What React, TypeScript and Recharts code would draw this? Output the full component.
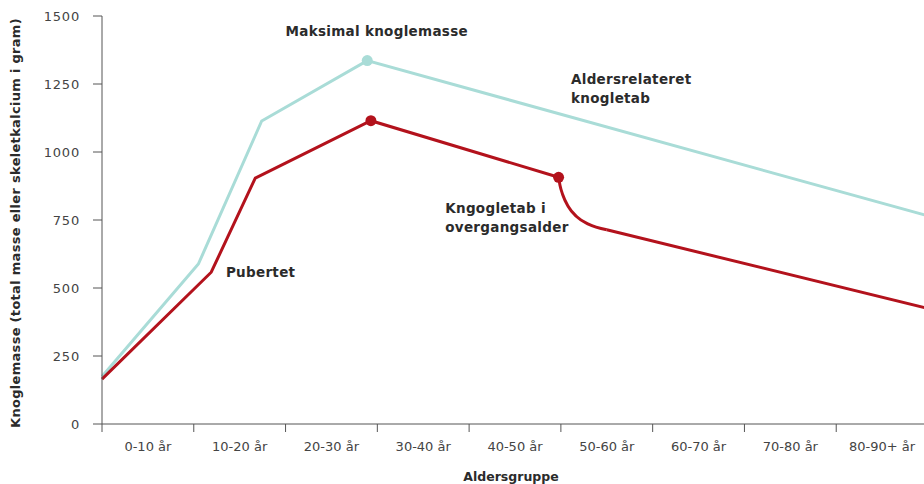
import { LineChart, Line, XAxis, YAxis, ReferenceDot, Label } from 'recharts'

const ageGroups = ['0-10 år', '10-20 år', '20-30 år', '30-40 år', '40-50 år', '50-60 år', '60-70 år', '70-80 år', '80-90+ år']
const groupBounds = [0, 10, 20, 30, 40, 50, 60, 70, 80, 90]
const massTicks = [0, 250, 500, 750, 1000, 1250, 1500]

// upper (teal) curve: peak bone mass + age related loss
const peakAges = [0, 10.5, 17.4, 28.9, 90]
const peakMass = [175, 588, 1114, 1336, 765]

// lower (red) curve, split where the menopause drop bends
const earlyAges = [0, 11.9, 16.7, 29.3, 49.75]
const earlyMass = [165, 558, 904, 1115, 907]
const dropAges = [49.75, 49.9, 50.2, 50.8, 51.7, 53, 55]
const dropMass = [907, 878, 843, 800, 763, 735, 714]
const lateAges = [55, 90]
const lateMass = [714, 425]

const noteLines = [['Maksimal knoglemasse'], ['Aldersrelateret', 'knogletab'], ['Kngogletab i', 'overgangsalder'], ['Pubertet']]
const noteAges = [20.0, 51.1, 37.4, 13.5]
const noteMass = [1428, 1249, 777, 541]

const TEAL = '#a9dcd7'
const RED = '#b3121c'
const FONT = '"DejaVu Sans", sans-serif'

const W = 930
const H = 484
const Y_W = 102
const RIGHT = 2
const halfGroup = (W - Y_W - RIGHT) / ageGroups.length / 2

const toPoints = (ages: number[], mass: number[]) => ages.map((age, i) => ({ age, mass: mass[i] }))

const peakData = toPoints(peakAges, peakMass)
const earlyData = toPoints(earlyAges, earlyMass)
const dropData = toPoints(dropAges, dropMass)
const lateData = toPoints(lateAges, lateMass)

const dots = [
  { age: peakAges[3], mass: peakMass[3], color: TEAL },
  { age: earlyAges[3], mass: earlyMass[3], color: RED },
  { age: earlyAges[4], mass: earlyMass[4], color: RED },
]

const GroupTick = (props: any) => {
  const { x, y, index } = props
  if (index >= ageGroups.length) return <g />
  return (
    <text x={x + halfGroup} y={y + 17} textAnchor="middle" fontFamily={FONT} fontSize={13} fill="#444">
      {ageGroups[index]}
    </text>
  )
}

const noteContent = (lines: string[]) => (props: any) => {
  const { x, y } = props.viewBox
  return (
    <text x={x} y={y} fontFamily={FONT} fontSize={13.5} fontWeight={700} letterSpacing={0.3} fill="#2b2b2b">
      {lines.map((line, i) => (
        <tspan key={i} x={x} dy={i === 0 ? 0 : 19}>
          {line}
        </tspan>
      ))}
    </text>
  )
}

const yLabel = (props: any) => {
  const { y, height } = props.viewBox
  const cy = y + height / 2 + 3
  return (
    <text
      x={19.5}
      y={cy}
      transform={`rotate(-90 19.5 ${cy})`}
      textAnchor="middle"
      fontFamily={FONT}
      fontSize={13}
      fontWeight={700}
      letterSpacing={0.3}
      fill="#2b2b2b"
    >
      Knoglemasse (total masse eller skeletkalcium i gram)
    </text>
  )
}

export default function App() {
  return (
    <div style={{ position: 'absolute', left: 0, top: 0, width: 924, height: H, overflow: 'hidden', background: '#fff' }}>
      <LineChart width={W} height={H} margin={{ top: 16, right: RIGHT, left: 0, bottom: 0 }}>
        <XAxis
          dataKey="age"
          type="number"
          domain={[0, 90]}
          ticks={groupBounds}
          tick={<GroupTick />}
          tickSize={8}
          height={60}
          stroke="#555"
        >
          <Label
            value="Aldersgruppe"
            position="insideBottom"
            offset={3}
            dx={-4}
            style={{ fontFamily: FONT, fontSize: 12.5, fontWeight: 700, fill: '#2b2b2b' }}
          />
        </XAxis>
        <YAxis
          type="number"
          domain={[0, 1500]}
          ticks={massTicks}
          width={Y_W}
          tickSize={9}
          tickMargin={13}
          stroke="#555"
          tick={{ fontFamily: FONT, fontSize: 13, fill: '#444', letterSpacing: 0.8 }}
        >
          <Label content={yLabel} />
        </YAxis>

        <Line data={peakData} dataKey="mass" type="linear" stroke={TEAL} strokeWidth={3} dot={false} isAnimationActive={false} />
        <Line data={earlyData} dataKey="mass" type="linear" stroke={RED} strokeWidth={3} dot={false} isAnimationActive={false} />
        <Line data={dropData} dataKey="mass" type="monotone" stroke={RED} strokeWidth={3} dot={false} isAnimationActive={false} />
        <Line data={lateData} dataKey="mass" type="linear" stroke={RED} strokeWidth={3} dot={false} isAnimationActive={false} />

        {dots.map((d, i) => (
          <ReferenceDot key={`dot-${i}`} x={d.age} y={d.mass} r={5.5} fill={d.color} stroke="none" />
        ))}

        {noteLines.map((lines, i) => (
          <ReferenceDot
            key={`note-${i}`}
            x={noteAges[i]}
            y={noteMass[i]}
            r={0}
            fill="none"
            stroke="none"
            ifOverflow="visible"
          >
            <Label content={noteContent(lines)} />
          </ReferenceDot>
        ))}
      </LineChart>
    </div>
  )
}
